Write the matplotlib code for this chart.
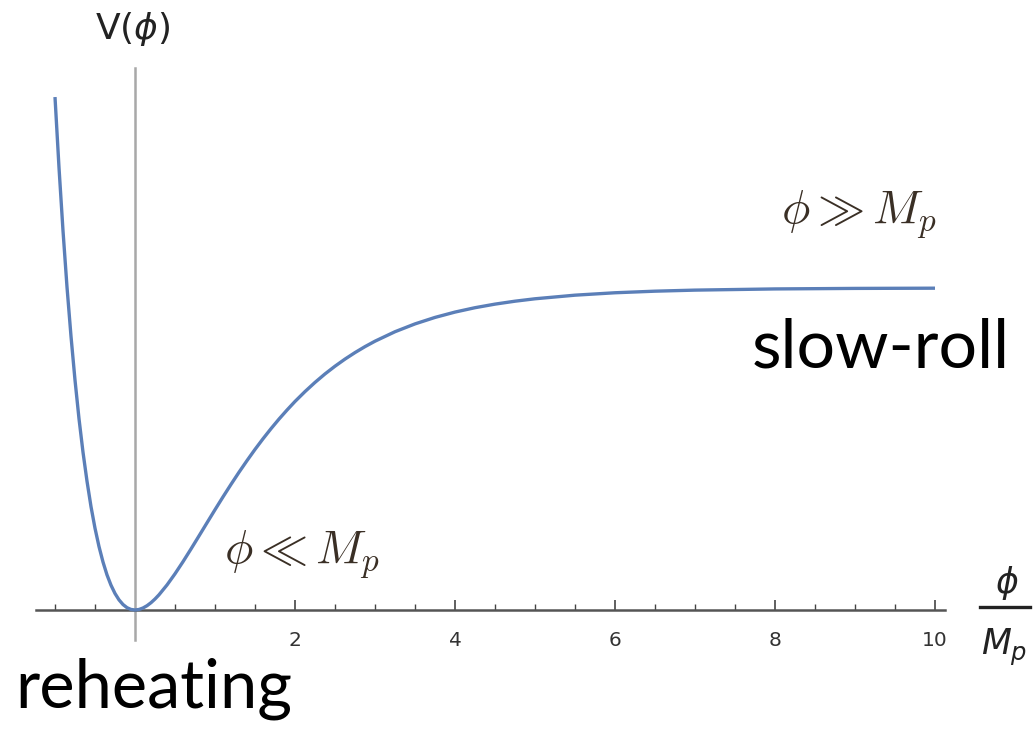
import matplotlib.pyplot as plt
import numpy as np

# potential V(phi), phi in units of M_p
phi = [-1.0, -0.95, -0.9, -0.85, -0.8, -0.75, -0.7, -0.65, -0.6, -0.55,
       -0.5, -0.45, -0.4, -0.35, -0.3, -0.25, -0.2, -0.15, -0.1, -0.05, 0.0,
       0.05, 0.1, 0.15, 0.2, 0.25, 0.3, 0.4, 0.5, 0.6, 0.7, 0.8, 0.9, 1.0,
       1.1, 1.2, 1.3, 1.4, 1.5, 1.6, 1.7, 1.8, 1.9, 2.0, 2.125, 2.25, 2.375,
       2.5, 2.625, 2.75, 2.875, 3.0, 3.25, 3.5, 3.75, 4.0, 4.25, 4.5, 4.75,
       5.0, 5.5, 6.0, 6.5, 7.0, 8.0, 9.0, 10.0]
V = [1.593, 1.374, 1.178, 1.003, 0.850, 0.714, 0.594, 0.490, 0.400, 0.321,
     0.254, 0.197, 0.149, 0.109, 0.077, 0.0513, 0.0315, 0.0170, 0.0072,
     0.0017, 0.0, 0.0016, 0.0062, 0.0133, 0.0227, 0.0341, 0.0472, 0.0777,
     0.1124, 0.150, 0.1895, 0.230, 0.2708, 0.3114, 0.3513, 0.3901, 0.4278,
     0.4639, 0.4987, 0.5317, 0.5631, 0.5929, 0.6209, 0.6476, 0.6783, 0.7068,
     0.7331, 0.7571, 0.7792, 0.7994, 0.8179, 0.8348, 0.8642, 0.8885, 0.9086,
     0.9252, 0.9388, 0.9499, 0.9590, 0.9665, 0.9777, 0.9852, 0.9901, 0.9934,
     0.9971, 0.9987, 0.9994]

major_ticks = [2, 4, 6, 8, 10]
minor_ticks = [-1, -0.5, 0.5, 1, 1.5, 2.5, 3, 3.5, 4.5, 5, 5.5, 6.5, 7,
               7.5, 8.5, 9, 9.5]

plt.rcParams['mathtext.fontset'] = 'cm'

fig = plt.figure(figsize=(10.34, 7.3), dpi=100)
ax = fig.add_axes([0, 0, 1, 1])
ax.set_xlim(-1.6875, 11.2375)
ax.set_ylim(-0.3727, 1.8944)

ax.plot(phi, V, color='#5b7fb8', lw=2.4, solid_capstyle='butt', zorder=3)

# axes crossing at the origin
for side in ['top', 'right']:
    ax.spines[side].set_visible(False)
ax.spines['bottom'].set_position(('data', 0))
ax.spines['bottom'].set_bounds(-1.24, 10.12)
ax.spines['bottom'].set_color('#555555')
ax.spines['bottom'].set_linewidth(1.8)
ax.spines['left'].set_position(('data', 0))
ax.spines['left'].set_bounds(-0.093, 1.683)
ax.spines['left'].set_color('#a8a8a8')
ax.spines['left'].set_linewidth(1.8)
ax.set_yticks([])

ax.set_xticks(major_ticks)
ax.set_xticklabels([str(t) for t in major_ticks])
ax.set_xticks(minor_ticks, minor=True)
ax.tick_params(axis='x', which='major', direction='in', length=7, width=1.2,
               color='#444444', labelsize=14.5, labelcolor='#333333', pad=15)
ax.tick_params(axis='x', which='minor', direction='in', length=4, width=1.0,
               color='#444444')

ax.text(-0.03, 1.804, 'V($\\phi$)', ha='center', va='center', fontsize=26,
        family='DejaVu Sans', math_fontfamily='dejavusans', color='#222222')

ax.text(8.08, 1.227, r'$\phi \gg M_p$', ha='left', va='center', fontsize=34,
        color='#3a2f25')
ax.text(1.115, 0.171, r'$\phi \ll M_p$', ha='left', va='center', fontsize=34,
        color='#3a2f25')

ax.text(7.71, 0.752, 'slow-roll', ha='left', va='baseline', fontsize=49,
        family='Lato', color='black')
ax.text(-1.5, -0.304, 'reheating', ha='left', va='baseline', fontsize=48,
        family='Lato', color='black')

# axis label phi / M_p drawn as a fraction
ax.text(10.9, 0.085, r'$\phi$', ha='center', va='center', fontsize=25,
        math_fontfamily='dejavusans', color='#222222')
ax.plot([10.5625, 11.1875], [0.0093, 0.0093], color='#222222', lw=2.4,
        clip_on=False)
ax.text(10.87, -0.115, r'$M_p$', ha='center', va='center', fontsize=25,
        math_fontfamily='dejavusans', color='#222222')

fig.savefig('out.png', dpi=100)
